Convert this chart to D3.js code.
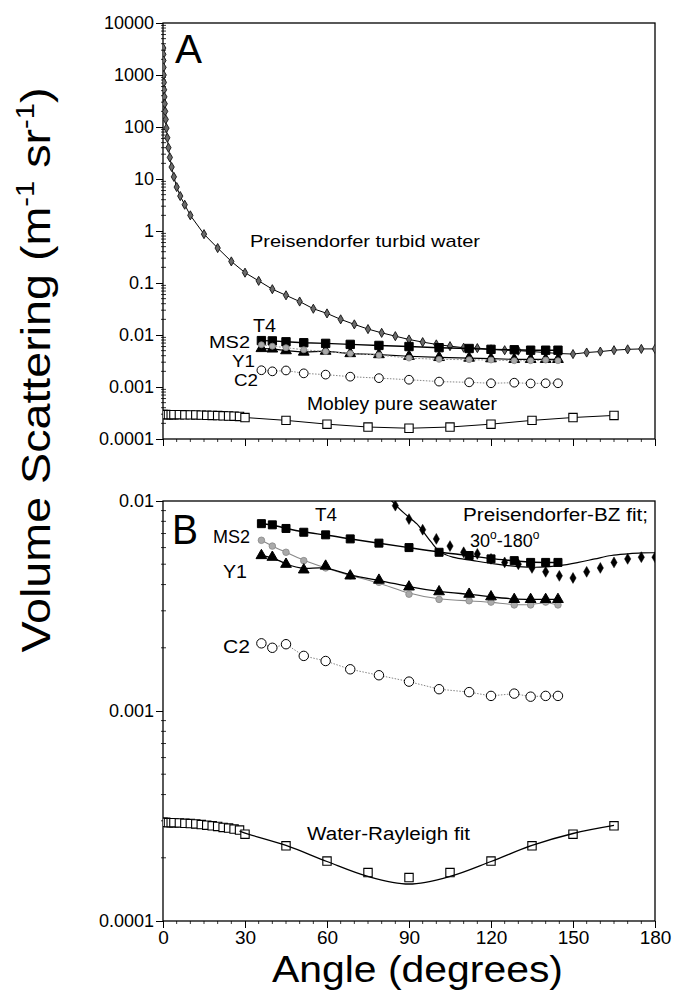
<!DOCTYPE html>
<html><head><meta charset="utf-8">
<script src="https://cdn.jsdelivr.net/npm/d3@7"></script>
<style>
html,body{margin:0;padding:0;background:#fff;}
svg{display:block;font-family:"Liberation Sans",Arial,Helvetica,sans-serif;}
</style></head>
<body>
<svg id="c" width="682" height="993"></svg>
<script>
// ---------- DATA ----------
const preisAngles = [0.1,0.126,0.158,0.2,0.251,0.316,0.398,0.501,0.631,0.794,1,1.259,1.585,1.995,2.512,3.162,3.981,5.012,6.31,7.943,10,15,20,25,30,35,40,45,50,55,60,65,70,75,80,85,90,95,100,105,110,115,120,125,130,135,140,145,150,155,160,165,170,175,180];
const preisValues = [3300,2500,1900,1400,1000,720,520,380,280,200,140,95,62,40,26,17,11,7,4.7,3.2,2.0,0.87,0.47,0.26,0.158,0.11,0.076,0.058,0.044,0.032,0.026,0.020,0.016,0.013,0.011,0.0095,0.0082,0.0073,0.0066,0.0061,0.0057,0.0056,0.0053,0.0051,0.0050,0.0048,0.0046,0.0044,0.0043,0.0046,0.0048,0.0051,0.0053,0.0054,0.0054];

const sampleAngles = [36,40,45,51.5,59.5,68.5,79,90,101,112,120,128.5,134.5,140,144.5];
const t4Values  = [0.0078,0.0077,0.0074,0.0071,0.0069,0.0066,0.0063,0.0060,0.0057,0.0055,0.0053,0.0052,0.0051,0.0051,0.0051];
const ms2Values = [0.0065,0.0061,0.0057,0.0052,0.0048,0.0044,0.0041,0.0036,0.0034,0.00335,0.0033,0.0032,0.0032,0.0033,0.0032];
const y1Values  = [0.0055,0.0054,0.0050,0.0047,0.0049,0.0044,0.0042,0.0039,0.0037,0.0036,0.0035,0.0034,0.0034,0.0034,0.0034];
const c2Values  = [0.0021,0.0020,0.00208,0.00183,0.00173,0.00158,0.00148,0.00138,0.00127,0.00123,0.00118,0.00121,0.00117,0.00118,0.00118];

const waterAngles = [0,1,2,3,4,6,8,10,12,14,16,18,20,22,24,26,28,30,45,60,75,90,105,120,135,150,165];
const waterValues = [0.000295,0.000295,0.000294,0.000294,0.000294,0.000293,0.000292,0.000291,0.000290,0.000288,0.000286,0.000284,0.000282,0.000279,0.000277,0.000274,0.000271,0.000259,0.000228,0.000193,0.000170,0.000161,0.000170,0.000193,0.000228,0.000259,0.000284];

const rayFitAngles = [28,30,45,60,75,90,105,120,135,150,165];
const rayFitValues = [0.000268,0.000262,0.000229,0.000192,0.000163,0.000150,0.000163,0.000192,0.000229,0.000261,0.000285];

const bzFitAngles = [78,84,88,92.8,95,98,101.3,106,113.5,122,130,138,145,152,158,164,170,175,180];
const bzFitValues = [0.0122,0.0099,0.0088,0.0078,0.0072,0.0064,0.00574,0.0054,0.0052,0.0050,0.00487,0.00484,0.00492,0.0051,0.0053,0.0055,0.0056,0.00566,0.00567];

const xTickValues = [0,30,60,90,120,150,180];
const yTicksA = [0.0001,0.001,0.01,0.1,1,10,100,1000,10000];
const yTickLabelsA = ["0.0001","0.001","0.01","0.1","1","10","100","1000","10000"];
const yTicksB = [0.0001,0.001,0.01];
const yTickLabelsB = ["0.0001","0.001","0.01"];

// ---------- SCALES ----------
const svg = d3.select("#c");
const X0 = 163, X1 = 655;
const x = d3.scaleLinear().domain([0,180]).range([X0,X1]);
const yA = d3.scaleLog().domain([1e-4,1e4]).range([439,23]);
const yB = d3.scaleLog().domain([1e-4,1e-2]).range([921,501]);

const FONT = '"Liberation Sans",Arial,Helvetica,sans-serif';

function zip(a,v){ return a.map((d,i)=>({a:d,v:v[i]})); }

function panel(y, ticks, tickLabels, id, showXLabels){
  const top = y.range()[1], bot = y.range()[0];
  const g = svg.append("g");
  svg.append("clipPath").attr("id",id).append("rect")
    .attr("x",X0).attr("y",top).attr("width",X1-X0).attr("height",bot-top);
  const dmin = Math.log10(y.domain()[0]), dmax = Math.log10(y.domain()[1]);
  const minors = [];
  for(let e=dmin;e<dmax;e++) for(let k=2;k<=9;k++) minors.push(k*Math.pow(10,e));
  g.selectAll(".ym").data(minors).enter().append("line")
    .attr("x1",X0-2).attr("x2",X0+3).attr("y1",d=>y(d)).attr("y2",d=>y(d))
    .attr("stroke","#000").attr("stroke-width",0.8);
  const ya = g.append("g").attr("transform",`translate(${X0},0)`)
    .call(d3.axisLeft(y).tickValues(ticks).tickFormat((d,i)=>tickLabels[i]).tickSize(7).tickPadding(2));
  ya.select(".domain").remove();
  ya.selectAll("text").attr("font-family",FONT).attr("font-size",18).attr("fill","#000");
  const xm = d3.range(0,181,5).filter(d=>d%30!==0);
  g.selectAll(".xm").data(xm).enter().append("line")
    .attr("x1",d=>x(d)).attr("x2",d=>x(d)).attr("y1",bot).attr("y2",bot+3)
    .attr("stroke","#000").attr("stroke-width",0.8);
  const xa = g.append("g").attr("transform",`translate(0,${bot})`)
    .call(d3.axisBottom(x).tickValues(xTickValues).tickSize(7).tickPadding(3)
      .tickFormat(showXLabels ? d3.format("d") : ()=>""));
  xa.select(".domain").remove();
  xa.selectAll("text").attr("font-family",FONT).attr("font-size",19).attr("fill","#000");
  g.append("rect").attr("x",X0).attr("y",top).attr("width",X1-X0).attr("height",bot-top)
    .attr("fill","none").attr("stroke","#000").attr("stroke-width",1.3);
  return svg.append("g").attr("clip-path",`url(#${id})`);
}

function sym(type,size){ return d3.symbol().type(type).size(size)(); }

function drawSeries(plot, y, data, o){
  if(o.line){
    const ln = d3.line().x(d=>x(d.a)).y(d=>y(d.v)).curve(o.curve||d3.curveLinear);
    plot.append("path").datum(data).attr("d",ln).attr("fill","none")
      .attr("stroke",o.lineColor||"#000").attr("stroke-width",o.lw||1)
      .attr("stroke-dasharray",o.dash||null);
  }
  if(o.marker){
    plot.selectAll(null).data(data).enter().append("path")
      .attr("d",sym(o.marker,o.size))
      .attr("transform",d=>`translate(${x(d.a)},${y(d.v)})`)
      .attr("fill",o.fill).attr("stroke",o.stroke||"#000").attr("stroke-width",o.sw||1);
  }
}

function label(txt, px, py, size, opts={}){
  const t = svg.append("text").attr("x",px).attr("y",py).attr("font-size",size)
    .attr("font-family",FONT).attr("fill","#000").attr("text-anchor",opts.anchor||"start").text(txt);
  if(opts.width) t.attr("textLength",opts.width).attr("lengthAdjust","spacingAndGlyphs");
  return t;
}

// ---------- PANEL A ----------
const pA = panel(yA, yTicksA, yTickLabelsA, "clipA", false);
const preis = zip(preisAngles,preisValues);
drawSeries(pA, yA, preis, {line:true, lw:1, marker:d3.symbolDiamond, size:24, fill:"#6a6a6a", stroke:"#111", sw:0.9});
drawSeries(pA, yA, zip(sampleAngles,c2Values), {line:true, lw:0.9, lineColor:"#777", dash:"1.5,1.5", marker:d3.symbolCircle, size:60, fill:"#fff", sw:1});
drawSeries(pA, yA, zip(sampleAngles,y1Values), {line:true, lw:1.2, marker:d3.symbolTriangle, size:50, fill:"#000"});
drawSeries(pA, yA, zip(sampleAngles,t4Values), {line:true, lw:1.4, marker:d3.symbolSquare, size:70, fill:"#000"});
drawSeries(pA, yA, zip(sampleAngles,ms2Values), {line:true, lw:1, lineColor:"#999", dash:"2,1.5", marker:d3.symbolCircle, size:28, fill:"#aaa", stroke:"#888", sw:0.8});
drawSeries(pA, yA, zip(waterAngles,waterValues), {line:true, lw:1, marker:d3.symbolSquare, size:70, fill:"#fff", sw:1.1});

label("A", 175, 63, 40, {width:27});
label("Preisendorfer turbid water", 250, 247, 17, {width:230});
label("T4", 253, 332, 18, {width:23});
label("MS2", 250, 348, 16, {anchor:"end", width:41});
label("Y1", 255, 367, 16, {anchor:"end", width:23});
label("C2", 258, 386, 16, {anchor:"end", width:24});
label("Mobley pure seawater", 307, 410, 18, {width:190});

// ---------- PANEL B ----------
const pB = panel(yB, yTicksB, yTickLabelsB, "clipB", true);
drawSeries(pB, yB, zip(bzFitAngles,bzFitValues), {line:true, lw:1.2, curve:d3.curveCatmullRom});
drawSeries(pB, yB, preis.filter(d=>d.a>=80), {line:false, marker:d3.symbolDiamond, size:34, fill:"#000", stroke:"#000", sw:0.5});
drawSeries(pB, yB, zip(sampleAngles,c2Values), {line:true, lw:0.9, lineColor:"#777", dash:"1.5,1.5", marker:d3.symbolCircle, size:70, fill:"#fff", sw:1});
drawSeries(pB, yB, zip(sampleAngles,ms2Values), {line:true, lw:1.1, lineColor:"#888", curve:d3.curveBasis, marker:d3.symbolCircle, size:34, fill:"#aaa", stroke:"#888", sw:0.8});
drawSeries(pB, yB, zip(sampleAngles,y1Values), {line:true, lw:1.3, curve:d3.curveBasis, marker:d3.symbolTriangle, size:50, fill:"#000"});
drawSeries(pB, yB, zip(sampleAngles,t4Values), {line:true, lw:1.5, curve:d3.curveBasis, marker:d3.symbolSquare, size:64, fill:"#000"});
drawSeries(pB, yB, zip(waterAngles,waterValues), {line:false, marker:d3.symbolSquare, size:70, fill:"#fff", sw:1.1});
drawSeries(pB, yB, zip(rayFitAngles,rayFitValues), {line:true, lw:1.3, curve:d3.curveCatmullRom});

label("B", 172, 544, 42, {width:26});
label("T4", 315, 521, 19, {width:22});
label("MS2", 250, 543, 18, {anchor:"end", width:37});
label("Y1", 247, 578, 19, {anchor:"end", width:24});
label("C2", 250, 653, 19, {anchor:"end", width:27});
label("Preisendorfer-BZ fit;", 463, 521, 18, {width:185});
const t30 = svg.append("text").attr("x",470).attr("y",547).attr("font-size",18)
  .attr("font-family",FONT).attr("fill","#000");
t30.append("tspan").text("30");
t30.append("tspan").attr("font-size",12).attr("dy",-8).text("o");
t30.append("tspan").attr("dy",8).text("-180");
t30.append("tspan").attr("font-size",12).attr("dy",-8).text("o");
label("Water-Rayleigh fit", 307, 840, 18, {width:163});

// ---------- AXIS TITLES ----------
label("Angle (degrees)", 272, 982, 36, {width:291});

const yl = svg.append("text").attr("font-size",40).attr("font-family",FONT).attr("fill","#000")
  .attr("text-anchor","middle");
yl.append("tspan").text("Volume Scattering (m");
yl.append("tspan").attr("font-size",25).attr("dy",-16).text("-1");
yl.append("tspan").attr("dy",16).text(" sr");
yl.append("tspan").attr("font-size",25).attr("dy",-16).text("-1");
yl.append("tspan").attr("dy",16).text(")");
const L = yl.node().getComputedTextLength();
const sx = 565 / L;
yl.attr("transform",`translate(50,370) rotate(-90) scale(${sx},1)`);
</script>
</body></html>
